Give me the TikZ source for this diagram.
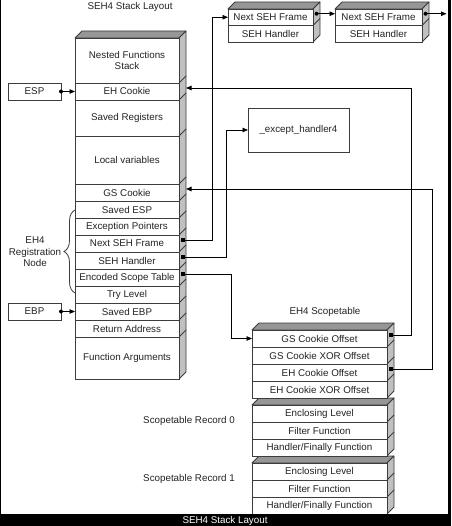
\documentclass[tikz,border=0pt]{standalone}
\usepackage{fontspec}
\setmainfont{Liberation Sans}
\usetikzlibrary{arrows.meta,decorations.pathreplacing,calc}
\definecolor{topgray}{RGB}{150,150,150}
\definecolor{sidegray}{RGB}{192,192,192}
\definecolor{edgec}{RGB}{60,60,60}
\definecolor{ink}{RGB}{35,35,35}
\newcommand{\slabbox}[4]{%
  \filldraw[fill=topgray,draw=edgec,line width=0.8pt,line join=round] (#1,#3) -- (#1+7,#3-7) -- (#2+7,#3-7) -- (#2,#3) -- cycle;
  \filldraw[fill=sidegray,draw=edgec,line width=0.8pt,line join=round] (#2,#3) -- (#2+7,#3-7) -- (#2+7,#4-7) -- (#2,#4) -- cycle;
}
\newcommand{\slabdiag}[2]{%
  \foreach \yy in {#2} \draw[edgec,line width=0.8pt] (#1,\yy) -- (#1+7,\yy-7);
}
\begin{document}
\begin{tikzpicture}[x=1pt,y=-1pt,
  cell/.style={draw=edgec,line width=0.8pt,fill=white,anchor=north west,inner sep=0pt,outer sep=0pt,
    text=ink,font=\fontsize{9.8}{11.5}\selectfont,align=center},
  lbl/.style={text=ink,font=\fontsize{9.8}{11.5}\selectfont,align=center,inner sep=0pt},
  conn/.style={draw=black,line width=0.8pt,-{Triangle[length=5.5pt,width=4.5pt]}}]
\useasboundingbox (0,0) rectangle (451,526);
\fill[white] (0,0) rectangle (451,526);

% ---- 3D faces ----
\slabbox{75}{179}{38}{379}
\slabdiag{179}{83,100,136,184,201,218,235,252,269,286,303,320,337}
\slabbox{228}{313}{9}{42}
\slabdiag{313}{25.5}
\slabbox{335}{422}{9}{42}
\slabdiag{422}{25.5}
\slabbox{252}{387}{330}{398}
\slabdiag{387}{347,364,381}
\slabbox{252}{387}{405}{456}
\slabdiag{387}{422,439}
\slabbox{252}{387}{463}{514}
\slabdiag{387}{480,497}

% ---- main stack ----
\node[cell,minimum width=104pt,minimum height=45pt] (nfs) at (75,38) {Nested Functions\\Stack};
\node[cell,minimum width=104pt,minimum height=17pt] (ehc) at (75,83) {EH Cookie};
\node[cell,minimum width=104pt,minimum height=36pt] (sreg) at (75,100) {Saved Registers};
\node[cell,minimum width=104pt,minimum height=48pt] (lvar) at (75,136) {Local variables};
\node[cell,minimum width=104pt,minimum height=17pt] (gsc) at (75,184) {GS Cookie};
\node[cell,minimum width=104pt,minimum height=17pt] (sesp) at (75,201) {Saved ESP};
\node[cell,minimum width=104pt,minimum height=17pt] (expt) at (75,218) {Exception Pointers};
\node[cell,minimum width=104pt,minimum height=17pt] (nsf) at (75,235) {Next SEH Frame};
\node[cell,minimum width=104pt,minimum height=17pt] (sehh) at (75,252) {SEH Handler};
\node[cell,minimum width=104pt,minimum height=17pt] (est) at (75,269) {Encoded Scope Table};
\node[cell,minimum width=104pt,minimum height=17pt] (tryl) at (75,286) {Try Level};
\node[cell,minimum width=104pt,minimum height=17pt] (sebp) at (75,303) {Saved EBP};
\node[cell,minimum width=104pt,minimum height=17pt] (ret) at (75,320) {Return Address};
\node[cell,minimum width=104pt,minimum height=42pt] (fargs) at (75,337) {Function Arguments};

% ---- ESP / EBP ----
\node[cell,minimum width=53pt,minimum height=17pt] (esp) at (8,83) {ESP};
\node[cell,minimum width=53pt,minimum height=17pt] (ebp) at (8,303) {EBP};

% ---- SEH frames ----
\node[cell,minimum width=85pt,minimum height=16.5pt] (f1a) at (228,9) {Next SEH Frame};
\node[cell,minimum width=85pt,minimum height=16.5pt] (f1b) at (228,25.5) {SEH Handler};
\node[cell,minimum width=87pt,minimum height=16.5pt] (f2a) at (335,9) {Next SEH Frame};
\node[cell,minimum width=87pt,minimum height=16.5pt] (f2b) at (335,25.5) {SEH Handler};

% ---- handler ----
\node[cell,minimum width=101pt,minimum height=44pt] (exh) at (248,108) {\_except\_handler4};

% ---- scopetable ----
\node[cell,minimum width=135pt,minimum height=17pt] (gso) at (252,330) {GS Cookie Offset};
\node[cell,minimum width=135pt,minimum height=17pt] (gsx) at (252,347) {GS Cookie XOR Offset};
\node[cell,minimum width=135pt,minimum height=17pt] (eho) at (252,364) {EH Cookie Offset};
\node[cell,minimum width=135pt,minimum height=17pt] (ehx) at (252,381) {EH Cookie XOR Offset};
\node[cell,minimum width=135pt,minimum height=17pt] (r0a) at (252,405) {Enclosing Level};
\node[cell,minimum width=135pt,minimum height=17pt] (r0b) at (252,422) {Filter Function};
\node[cell,minimum width=135pt,minimum height=17pt] (r0c) at (252,439) {Handler/Finally Function};
\node[cell,minimum width=135pt,minimum height=17pt] (r1a) at (252,463) {Enclosing Level};
\node[cell,minimum width=135pt,minimum height=17pt] (r1b) at (252,480) {Filter Function};
\node[cell,minimum width=135pt,minimum height=17pt] (r1c) at (252,497) {Handler/Finally Function};

% ---- labels ----
\node[lbl] (title) at (130,7) {SEH4 Stack Layout};
\node[lbl] (sttl) at (325,312) {EH4 Scopetable};
\node[lbl] (rec0) at (189,421) {Scopetable Record 0};
\node[lbl] (rec1) at (189,479) {Scopetable Record 1};
\node[lbl] (ehreg) at (35,252) {EH4\\Registration\\Node};

% ---- brace ----
\draw[edgec,line width=0.8pt,decorate,decoration={brace,amplitude=11pt}] (75,293) -- (75,210);

% ---- connectors ----
\coordinate (nsfdot) at ($(nsf.east)+(4,-3.5)$);
\coordinate (sehhdot) at ($(sehh.east)+(4,-3.5)$);
\coordinate (estdot) at ($(est.east)+(4,-3.5)$);
\coordinate (gsodot) at ($(gso.east)+(4,-3.5)$);
\coordinate (ehodot) at ($(eho.east)+(4,-3.5)$);
\coordinate (ehcin) at ($(ehc.east)+(7,-3.5)$);
\coordinate (gscin) at ($(gsc.east)+(7,-3.5)$);
\coordinate (f1dot) at ($(f1a.east)+(3.5,-3.5)$);
\coordinate (f2dot) at ($(f2a.east)+(3.5,-3.5)$);
\coordinate (chainend) at ($(f2dot)+(21,0)$);

\draw[conn] (esp.east) -- (ehc.west);
\draw[conn] (ebp.east) -- (sebp.west);
\draw[conn] (nsfdot) -- ++(29,0) |- (f1a.west);
\draw[conn] (sehhdot) -- ++(43,0) |- (exh.west);
\draw[conn] (estdot) -- ++(48,0) |- (gso.west);
\draw[conn] (gsodot) -- ++(20,0) |- (ehcin);
\draw[conn] (ehodot) -- ++(41,0) |- (gscin);
\draw[conn] (f1dot) -- (f1dot -| f2a.west);
\draw[conn] (f2dot) -- (chainend);

\fill (esp.east) circle (2);
\fill (ebp.east) circle (2);
\fill (f1dot) circle (2);
\fill (f2dot) circle (2);
\foreach \d in {nsfdot,sehhdot,estdot,gsodot,ehodot}
  \fill ($(\d)+(-2,-2)$) rectangle ++(4,4);

% ---- frame ----
\fill[black] (0,0) rectangle (1.2,514);
\fill[black] (448,0) rectangle (451,526);
\fill[black] (0,514) rectangle (451,526);
\node[lbl,text=white] (caption) at (225,520.5) {SEH4 Stack Layout};
\end{tikzpicture}
\end{document}
